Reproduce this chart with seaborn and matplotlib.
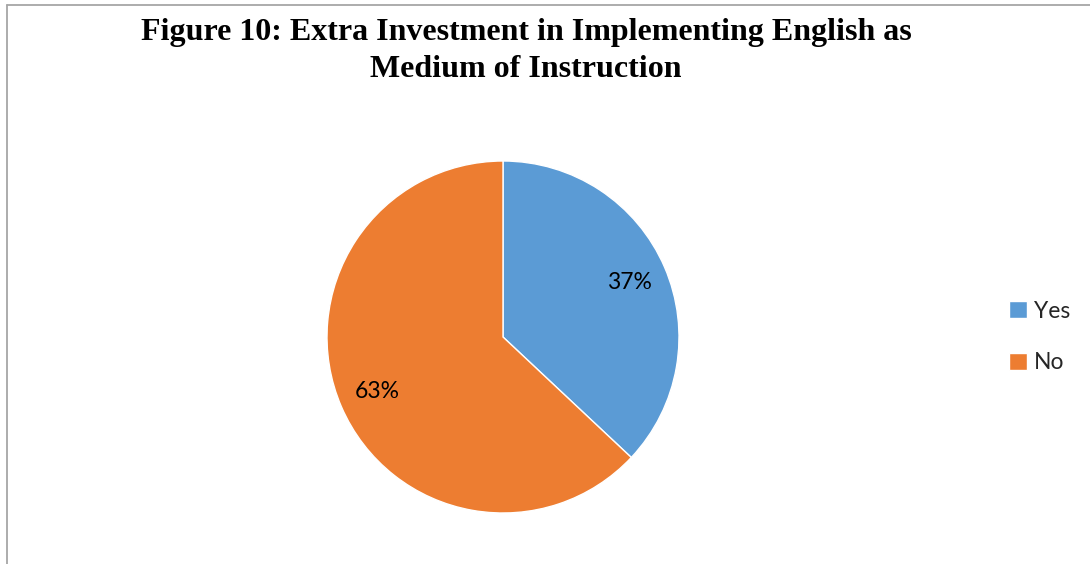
import matplotlib
matplotlib.use("Agg")
import matplotlib.pyplot as plt
import seaborn as sns
from matplotlib.lines import Line2D

categories = ["Yes", "No"]
values = [37, 63]
colors = ["#5B9BD5", "#ED7D31"]
title = "Figure 10: Extra Investment in Implementing English as\nMedium of Instruction"

sns.set_theme(style="white")
plt.rcParams['font.family'] = ['Lato', 'DejaVu Sans']

W, H = 1090, 564
fig = plt.figure(figsize=(W / 100, H / 100), dpi=100)
fig.patch.set_facecolor("white")

cx, cy, r = 503, 337, 176
ax = fig.add_axes([(cx - r) / W, (H - cy - r) / H, 2 * r / W, 2 * r / H])
wedges, texts, autotexts = ax.pie(
    values, colors=colors, startangle=90, counterclock=False,
    autopct=lambda p: f"{p:.0f}%", pctdistance=0.78,
    wedgeprops=dict(edgecolor="white", linewidth=1),
    textprops=dict(fontsize=16.5, color="#000000"),
)
ax.set_xlim(-1, 1)
ax.set_ylim(-1, 1)
ax.set_aspect("equal")
ax.axis("off")

fig.text(526 / W, 1 - 51 / H, title, ha="center", va="center",
         family="Liberation Serif", fontweight="bold", fontsize=23,
         linespacing=1.35, color="black")

leg = fig.legend(wedges, categories, loc="center left",
                 bbox_to_anchor=(998 / W, 1 - 337 / H),
                 frameon=False, fontsize=16.5, handlelength=0.75, handleheight=0.75,
                 handletextpad=0.3, labelspacing=1.35, borderpad=0)

gray = "#a6a6a6"
fig.add_artist(Line2D([6.5 / W, 1], [1 - 4.5 / H, 1 - 4.5 / H], color=gray, lw=1.3,
                      transform=fig.transFigure))
fig.add_artist(Line2D([6.5 / W, 6.5 / W], [0, 1 - 4.5 / H], color=gray, lw=1.3,
                      transform=fig.transFigure))

fig.savefig("out.png", dpi=100, facecolor="white")
